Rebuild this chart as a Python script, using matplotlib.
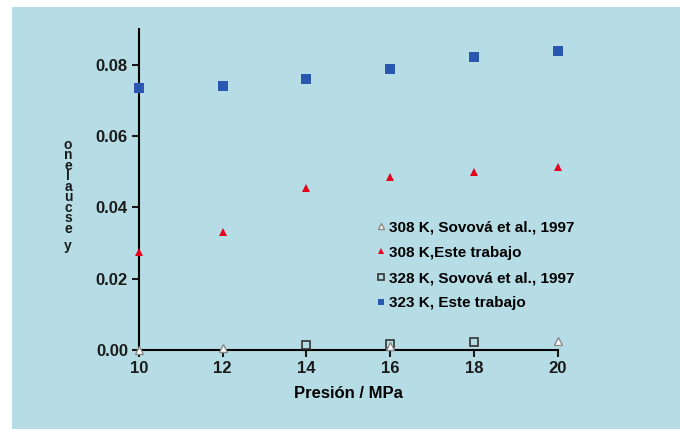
import matplotlib.pyplot as plt
from matplotlib.patches import Rectangle

# --- Datos ---
presion = [10, 12, 14, 16, 18, 20]
y_323_este = [0.0734, 0.0739, 0.0759, 0.0788, 0.0822, 0.0837]
y_308_este = [0.0274, 0.0330, 0.0453, 0.0484, 0.0500, 0.0514]
presion_308_sov = [10, 12, 16, 20]
y_308_sov = [0.0000, 0.0005, 0.0010, 0.0024]
presion_328_sov = [14, 16, 18]
y_328_sov = [0.0014, 0.0018, 0.0022]

fondo = "#b6dde5"
plt.rcParams["font.family"] = ["Liberation Sans", "DejaVu Sans"]
plt.rcParams["font.weight"] = "bold"

fig = plt.figure(figsize=(6.8, 4.29), dpi=100, facecolor="white")
fig.patches.append(Rectangle((12 / 680, 0), 1 - 12 / 680, 1 - 7 / 429,
                             transform=fig.transFigure, facecolor=fondo,
                             edgecolor="none", zorder=-10))

ax = fig.add_axes([139 / 680, 1 - 350 / 429, (557.7 - 139) / 680, (350 - 29) / 429])
ax.set_facecolor("none")

ax.plot(presion_308_sov, y_308_sov, "^", ms=6, mfc="white", mec="#8a8a8a",
        mew=1.0, ls="none", label="308 K, Sovová et al., 1997", clip_on=False, zorder=4)
ax.plot(presion, y_308_este, "^", ms=6, mew=0, color="#e8001c", ls="none",
        label="308 K,Este trabajo", clip_on=False, zorder=3)
ax.plot(presion_328_sov, y_328_sov, "s", ms=6, mfc="none", mec="#333333",
        mew=1.2, ls="none", label="328 K, Sovová et al., 1997", clip_on=False, zorder=3)
ax.plot(presion, y_323_este, "s", ms=6.5, mew=0, color="#2a58b0", ls="none",
        label="323 K, Este trabajo", clip_on=False, zorder=3)

ax.set_xlim(10, 20)
ax.set_ylim(0, 0.09)
ax.set_xticks([10, 12, 14, 16, 18, 20])
ax.set_yticks([0, 0.02, 0.04, 0.06, 0.08])
ax.set_yticklabels(["0.00", "0.02", "0.04", "0.06", "0.08"])
ax.tick_params(labelsize=12, width=1.5, length=5, pad=3, colors="#1a1a1a")
ax.spines["top"].set_visible(False)
ax.spines["right"].set_visible(False)
ax.spines["left"].set_linewidth(1.5)
ax.spines["bottom"].set_linewidth(1.5)
ax.set_xlabel("Presión / MPa", fontsize=12, fontweight="bold", labelpad=7)

# Etiqueta del eje y apilada letra a letra ("y escualeno" de abajo arriba)
fig.text(68 / 680, 1 - 138 / 429, "\n".join(reversed("escualeno")),
         ha="center", va="top", fontsize=10, fontweight="bold",
         linespacing=0.68, color="#1a1a1a")
fig.text(68 / 680, 1 - 250 / 429, "y", ha="center", va="baseline",
         fontsize=10, fontweight="bold", color="#1a1a1a")

ax.legend(loc="upper left", bbox_to_anchor=(366 / 680, 1 - 214 / 429),
          bbox_transform=fig.transFigure, frameon=False, fontsize=11,
          handletextpad=0.0, handlelength=1.1, labelspacing=0.75,
          markerscale=0.7, borderaxespad=0)

fig.savefig("out.png", dpi=100, facecolor="white")
